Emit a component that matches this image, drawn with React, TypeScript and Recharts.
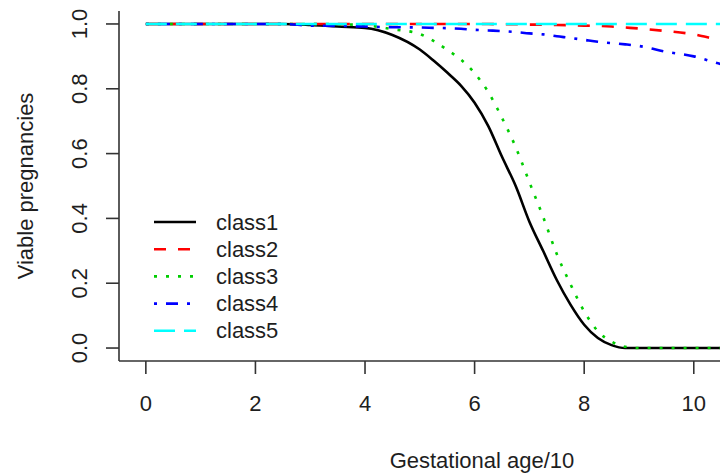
import { LineChart, Line, XAxis, YAxis, Legend } from "recharts";

// survival of viable pregnancies by gestational age (age / 10)
const ages = [0, 1, 2, 2.5, 3, 3.5, 4, 4.5, 5, 5.25, 5.5, 5.75, 6, 6.25, 6.5, 6.75, 7, 7.25, 7.5, 7.75, 8, 8.25, 8.5, 8.75, 9, 9.5, 10, 10.5, 11, 11.5, 12, 12.25];

const class1 = [1, 1, 1, 1, 0.997, 0.992, 0.988, 0.966, 0.921, 0.887, 0.85, 0.81, 0.757, 0.685, 0.59, 0.5, 0.39, 0.3, 0.21, 0.134, 0.072, 0.031, 0.009, 0, 0, 0, 0, 0, 0, 0, 0, 0];
const class2 = [1, 1, 1, 1, 1, 1, 1, 1, 1, 1, 1, 1, 1, 1, 0.999, 0.999, 0.998, 0.998, 0.997, 0.996, 0.995, 0.994, 0.992, 0.989, 0.986, 0.978, 0.968, 0.95, 0.94, 0.925, 0.91, 0.9];
const class3 = [1, 1, 1, 1, 1, 0.999, 0.996, 0.984, 0.969, 0.948, 0.92, 0.89, 0.848, 0.79, 0.71, 0.62, 0.512, 0.405, 0.29, 0.197, 0.113, 0.052, 0.02, 0.004, 0, 0, 0, 0, 0, 0, 0, 0];
const class4 = [1, 1, 1, 1, 0.995, 0.994, 0.992, 0.99, 0.989, 0.988, 0.987, 0.985, 0.982, 0.98, 0.978, 0.975, 0.971, 0.968, 0.962, 0.957, 0.951, 0.945, 0.941, 0.937, 0.932, 0.914, 0.9, 0.876, 0.862, 0.848, 0.832, 0.825];
const class5 = [1, 1, 1, 1, 1, 1, 1, 1, 1, 1, 1, 1, 1, 1, 1, 1, 1, 1, 1, 1, 1, 1, 1, 1, 1, 1, 1, 1, 1, 1, 1, 1];

const xTicks = [0, 2, 4, 6, 8, 10];
const yTicks = [0, 0.2, 0.4, 0.6, 0.8, 1];

const data = ages.map((age, i) => ({
  age,
  class1: class1[i],
  class2: class2[i],
  class3: class3[i],
  class4: class4[i],
  class5: class5[i],
}));

// R-style line types: solid, dashed, dotted, dotdash, longdash
const series = [
  { key: "class1", color: "#000000", dash: undefined },
  { key: "class2", color: "#ff0000", dash: "12 12" },
  { key: "class3", color: "#00cd00", dash: "3 9" },
  { key: "class4", color: "#0000ff", dash: "3 9 12 9" },
  { key: "class5", color: "#00ffff", dash: "21 9" },
];

const FONT = "'Liberation Sans', Arial, Helvetica, sans-serif";
const INK = "#1e1e1e";
const AXIS = "#333333";
const LW = 2.6;

const XTick = ({ x, y, payload }: any) => (
  <text x={x} y={y + 29} textAnchor="middle" dominantBaseline="central" fontSize={22} fontFamily={FONT} fill={INK}>
    {payload.value}
  </text>
);

const YTick = ({ x, y, payload }: any) => {
  const cx = x - 26;
  return (
    <text
      x={cx}
      y={y}
      transform={`rotate(-90 ${cx} ${y})`}
      textAnchor="middle"
      dominantBaseline="central"
      fontSize={22}
      fontFamily={FONT}
      fill={INK}
    >
      {Number(payload.value).toFixed(1)}
    </text>
  );
};

const XTitle = ({ viewBox }: any) => (
  <text x={viewBox.x + viewBox.width / 2} y={460} textAnchor="middle" dominantBaseline="central" fontSize={22} fontFamily={FONT} fill={INK}>
    Gestational age/10
  </text>
);

const YTitle = ({ viewBox }: any) => {
  const cy = viewBox.y + viewBox.height / 2;
  return (
    <text x={25} y={cy} transform={`rotate(-90 25 ${cy})`} textAnchor="middle" dominantBaseline="central" fontSize={22} fontFamily={FONT} fill={INK}>
      Viable pregnancies
    </text>
  );
};

const LegendBox = () => (
  <svg width={140} height={150} style={{ display: "block" }}>
    {series.map((s, i) => {
      const cy = 17 + i * 27.2;
      return (
        <g key={s.key}>
          <line x1={4} x2={46} y1={cy} y2={cy} stroke={s.color} strokeWidth={LW} strokeDasharray={s.dash} />
          <text x={66} y={cy} dominantBaseline="central" fontSize={22} fontFamily={FONT} fill={INK}>
            {s.key}
          </text>
        </g>
      );
    })}
  </svg>
);

export default function App() {
  return (
    <div style={{ position: "absolute", left: 0, top: 0, width: 720, height: 474, overflow: "hidden", background: "#fff" }}>
      <LineChart width={860} height={474} data={data} margin={{ top: 11, right: 15, bottom: 0, left: 0 }}>
        <XAxis
          dataKey="age"
          type="number"
          domain={[-0.49, 12.76]}
          ticks={xTicks}
          allowDataOverflow
          height={113}
          tickSize={13}
          tickMargin={0}
          tick={<XTick />}
          stroke={AXIS}
          strokeWidth={1.6}
          label={<XTitle />}
        />
        <YAxis
          type="number"
          domain={[-0.04, 1.04]}
          ticks={yTicks}
          allowDataOverflow
          width={119}
          tickSize={13}
          tickMargin={0}
          tick={<YTick />}
          stroke={AXIS}
          strokeWidth={1.6}
          label={<YTitle />}
        />
        <Legend
          layout="vertical"
          align="center"
          verticalAlign="middle"
          content={<LegendBox />}
          wrapperStyle={{ left: 150, top: 205, width: 140, height: 150 }}
        />
        {series.map((s) => (
          <Line
            key={s.key}
            dataKey={s.key}
            type="monotone"
            stroke={s.color}
            strokeWidth={LW}
            strokeDasharray={s.dash}
            strokeLinecap="butt"
            dot={false}
            activeDot={false}
            isAnimationActive={false}
          />
        ))}
      </LineChart>
    </div>
  );
}
